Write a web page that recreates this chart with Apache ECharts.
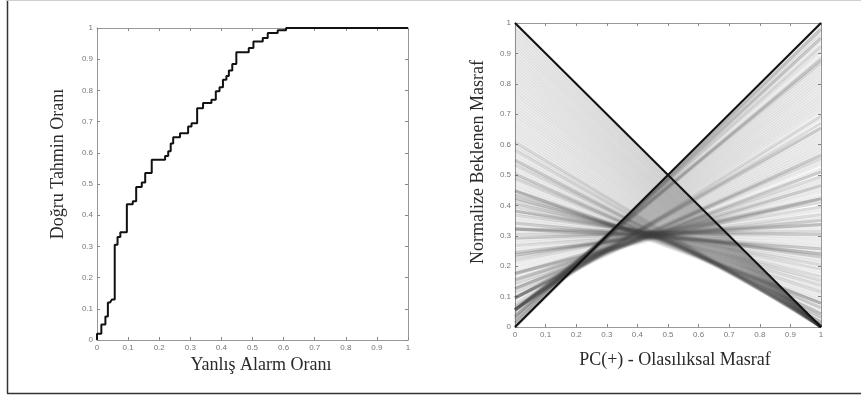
<!DOCTYPE html>
<html>
<head>
<meta charset="utf-8">
<script src="https://cdn.jsdelivr.net/npm/echarts@6/dist/echarts.min.js"></script>
<style>
html,body{margin:0;padding:0;background:#fff;}
#c{width:861px;height:401px;}
</style>
</head>
<body>
<div id="c"></div>
<script>
// ROC threshold points [false alarm rate, true positive rate]
const rocPoints = [
[0,0],[0,0.01],[0,0.02],[0.007,0.02],[0.014,0.02],[0.014,0.03],[0.014,0.04],[0.014,0.05],
[0.02,0.05],[0.027,0.05],[0.027,0.06],[0.027,0.075],[0.035,0.075],[0.035,0.085],[0.035,0.095],
[0.035,0.11],[0.035,0.12],[0.042,0.12],[0.048,0.12],[0.048,0.13],[0.057,0.13],
[0.057,0.14],[0.057,0.15],[0.057,0.16],[0.057,0.17],[0.057,0.18],[0.057,0.19],[0.057,0.2],
[0.057,0.21],[0.057,0.22],[0.057,0.23],[0.057,0.24],[0.057,0.25],[0.057,0.26],[0.057,0.27],
[0.057,0.28],[0.057,0.29],[0.057,0.305],[0.066,0.305],[0.066,0.315],[0.066,0.33],[0.075,0.33],
[0.075,0.345],[0.085,0.345],[0.096,0.345],[0.096,0.355],[0.096,0.365],[0.096,0.375],[0.096,0.385],
[0.096,0.395],[0.096,0.405],[0.096,0.415],[0.096,0.425],[0.096,0.435],[0.105,0.435],[0.115,0.435],
[0.115,0.445],[0.126,0.445],[0.126,0.455],[0.126,0.465],[0.126,0.48],[0.126,0.49],[0.135,0.49],
[0.144,0.49],[0.144,0.505],[0.155,0.505],[0.155,0.515],[0.155,0.525],[0.155,0.535],[0.165,0.535],
[0.176,0.535],[0.176,0.545],[0.176,0.555],[0.176,0.567],[0.176,0.578],[0.186,0.578],[0.197,0.578],
[0.208,0.578],[0.219,0.578],[0.219,0.59],[0.229,0.59],[0.229,0.605],[0.237,0.605],[0.237,0.617],
[0.237,0.63],[0.245,0.63],[0.245,0.64],[0.245,0.65],[0.256,0.65],[0.267,0.65],[0.267,0.663],
[0.276,0.663],[0.285,0.663],[0.293,0.663],[0.293,0.673],[0.293,0.684],[0.304,0.684],[0.304,0.695],
[0.313,0.695],[0.322,0.695],[0.322,0.705],[0.322,0.715],[0.322,0.725],[0.322,0.735],[0.322,0.743],
[0.331,0.743],[0.341,0.743],[0.341,0.752],[0.341,0.76],[0.35,0.76],[0.359,0.76],[0.368,0.76],
[0.368,0.77],[0.375,0.77],[0.382,0.77],[0.382,0.78],[0.382,0.788],[0.382,0.797],[0.394,0.797],
[0.394,0.81],[0.405,0.81],[0.405,0.822],[0.405,0.834],[0.416,0.834],[0.416,0.846],[0.424,0.846],
[0.424,0.855],[0.424,0.864],[0.435,0.864],[0.435,0.875],[0.435,0.885],[0.448,0.885],[0.448,0.895],
[0.448,0.905],[0.448,0.914],[0.448,0.922],[0.458,0.922],[0.468,0.922],[0.478,0.922],[0.488,0.922],
[0.488,0.936],[0.495,0.936],[0.503,0.936],[0.503,0.946],[0.503,0.957],[0.513,0.957],[0.523,0.957],
[0.533,0.957],[0.533,0.968],[0.541,0.968],[0.549,0.968],[0.549,0.976],[0.549,0.984],[0.56,0.984],
[0.57,0.984],[0.581,0.984],[0.581,0.993],[0.59,0.993],[0.599,0.993],[0.608,0.993],[0.608,1],
[0.618,1],[0.628,1],[0.638,1],[0.648,1],[0.658,1],[0.668,1],[0.678,1],[0.688,1],[0.698,1],
[0.708,1],[0.718,1],[0.728,1],[0.738,1],[0.748,1],[0.758,1],[0.768,1],[0.778,1],[0.788,1],
[0.798,1],[0.808,1],[0.818,1],[0.828,1],[0.838,1],[0.848,1],[0.858,1],[0.868,1],[0.878,1],
[0.888,1],[0.898,1],[0.908,1],[0.918,1],[0.928,1],[0.938,1],[0.948,1],[0.958,1],[0.968,1],
[0.978,1],[0.988,1],[1,1]
];
const tickLabels = ['0','0.1','0.2','0.3','0.4','0.5','0.6','0.7','0.8','0.9','1'];
const leftXTitle = 'Yanlış Alarm Oranı';
const leftYTitle = 'Doğru Tahmin Oranı';
const rightXTitle = 'PC(+) - Olasılıksal Masraf';
const rightYTitle = 'Normalize Beklenen Masraf';

// cost curve for each ROC point: from (0, FPR) to (1, 1 - TPR)
const costLines = rocPoints.map(p => ({coords: [[0, p[0]], [1, 1 - p[1]]]}));
const trivialLines = [costLines[0], costLines[costLines.length - 1]];

const chart = echarts.init(document.getElementById('c'), null, {renderer: 'canvas'});

function fmt(v) { return tickLabels[Math.round(v * 10)]; }
function mkX(gridIndex, pos, show) {
  return {
    type: 'value', gridIndex, position: pos, min: 0, max: 1, interval: 0.1,
    axisLine: {show: true, onZero: false, lineStyle: {color: '#999', width: 1}},
    axisTick: {show: true, inside: true, length: 3, lineStyle: {color: '#888'}},
    axisLabel: {show: show, formatter: fmt, fontSize: 8, color: '#777', margin: 4, fontFamily: 'Liberation Sans'},
    splitLine: {show: false}
  };
}
function mkY(gridIndex, pos, show) {
  return {
    type: 'value', gridIndex, position: pos, min: 0, max: 1, interval: 0.1,
    axisLine: {show: true, onZero: false, lineStyle: {color: '#999', width: 1}},
    axisTick: {show: true, inside: true, length: 3, lineStyle: {color: '#888'}},
    axisLabel: {show: show, formatter: fmt, fontSize: 8, color: '#777', margin: 4, fontFamily: 'Liberation Sans'},
    splitLine: {show: false}
  };
}

const titleFont = '18px "Liberation Serif"';
chart.setOption({
  animation: false,
  backgroundColor: '#fff',
  grid: [
    {left: 97, top: 28, width: 311, height: 312},
    {left: 515, top: 23, width: 306, height: 304}
  ],
  xAxis: [mkX(0, 'bottom', true), mkX(0, 'top', false), mkX(1, 'bottom', true), mkX(1, 'top', false)],
  yAxis: [mkY(0, 'left', true), mkY(0, 'right', false), mkY(1, 'left', true), mkY(1, 'right', false)],
  series: [
    {
      type: 'lines', coordinateSystem: 'cartesian2d', xAxisIndex: 2, yAxisIndex: 2,
      data: costLines, silent: true,
      lineStyle: {color: 'rgb(70,70,70)', width: 3, opacity: 0.1}
    },
    {
      type: 'lines', coordinateSystem: 'cartesian2d', xAxisIndex: 2, yAxisIndex: 2,
      data: trivialLines, silent: true,
      lineStyle: {color: '#111', width: 2, opacity: 1}
    },
    {
      type: 'line', xAxisIndex: 0, yAxisIndex: 0, data: rocPoints,
      showSymbol: false, symbol: 'none', silent: true,
      lineStyle: {color: '#111', width: 2}
    }
  ],
  graphic: [
    {type: 'line', shape: {x1: 7.5, y1: 0, x2: 7.5, y2: 393.5}, style: {stroke: '#333', lineWidth: 1.5}},
    {type: 'line', shape: {x1: 7, y1: 393.5, x2: 861, y2: 393.5}, style: {stroke: '#333', lineWidth: 1.5}},
    {type: 'line', shape: {x1: 7, y1: 0.5, x2: 861, y2: 0.5}, style: {stroke: '#d0d0d0', lineWidth: 1}},
    {type: 'text', x: 261, y: 365, style: {text: leftXTitle, font: titleFont, fill: '#2a2a2a', textAlign: 'center', textVerticalAlign: 'middle'}},
    {type: 'text', x: 58, y: 164, rotation: Math.PI / 2, style: {text: leftYTitle, font: titleFont, fill: '#2a2a2a', textAlign: 'center', textVerticalAlign: 'middle'}},
    {type: 'text', x: 675, y: 360, style: {text: rightXTitle, font: titleFont, fill: '#2a2a2a', textAlign: 'center', textVerticalAlign: 'middle'}},
    {type: 'text', x: 478, y: 162, rotation: Math.PI / 2, style: {text: rightYTitle, font: titleFont, fill: '#2a2a2a', textAlign: 'center', textVerticalAlign: 'middle'}}
  ]
});
</script>
</body>
</html>
